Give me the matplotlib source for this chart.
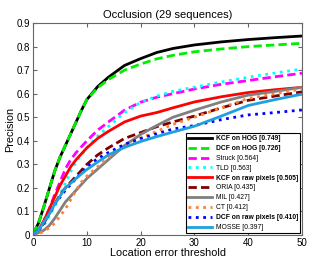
import numpy as np
import matplotlib.pyplot as plt

plt.rcParams['font.family'] = ['Liberation Sans', 'DejaVu Sans']

thr = [0, 1, 2, 3, 4, 5, 6, 7, 8, 9, 10, 12, 14, 17, 20, 23, 26, 30, 35, 40, 45, 50]

kcf_hog = [0.005, 0.05, 0.12, 0.195, 0.27, 0.33, 0.38, 0.43, 0.48, 0.53, 0.575, 0.63, 0.67, 0.72, 0.749, 0.775, 0.792, 0.807, 0.82, 0.83, 0.838, 0.845]
dcf_hog = [0.005, 0.05, 0.12, 0.195, 0.27, 0.33, 0.38, 0.43, 0.48, 0.53, 0.575, 0.625, 0.66, 0.70, 0.726, 0.748, 0.763, 0.778, 0.79, 0.80, 0.807, 0.814]
struck = [0.005, 0.02, 0.06, 0.11, 0.17, 0.225, 0.28, 0.32, 0.35, 0.375, 0.40, 0.445, 0.48, 0.53, 0.564, 0.585, 0.60, 0.62, 0.64, 0.656, 0.672, 0.687]
tld = [0.005, 0.015, 0.04, 0.08, 0.12, 0.17, 0.22, 0.27, 0.31, 0.34, 0.37, 0.42, 0.46, 0.52, 0.563, 0.59, 0.61, 0.628, 0.65, 0.67, 0.688, 0.705]
kcf_raw = [0.005, 0.02, 0.06, 0.11, 0.16, 0.21, 0.25, 0.29, 0.32, 0.345, 0.37, 0.41, 0.44, 0.48, 0.505, 0.52, 0.54, 0.565, 0.587, 0.605, 0.617, 0.627]
oria = [0.005, 0.02, 0.05, 0.09, 0.13, 0.17, 0.20, 0.225, 0.25, 0.275, 0.30, 0.34, 0.37, 0.41, 0.435, 0.46, 0.48, 0.505, 0.54, 0.572, 0.59, 0.608]
mil = [0.0, 0.01, 0.02, 0.04, 0.07, 0.105, 0.14, 0.165, 0.19, 0.215, 0.24, 0.28, 0.32, 0.38, 0.427, 0.465, 0.50, 0.53, 0.565, 0.594, 0.61, 0.627]
ct = [0.0, 0.005, 0.015, 0.03, 0.05, 0.08, 0.11, 0.15, 0.19, 0.225, 0.25, 0.29, 0.33, 0.38, 0.412, 0.44, 0.47, 0.50, 0.54, 0.58, 0.60, 0.62]
dcf_raw = [0.005, 0.02, 0.05, 0.09, 0.13, 0.16, 0.19, 0.215, 0.24, 0.265, 0.29, 0.325, 0.35, 0.385, 0.41, 0.43, 0.45, 0.465, 0.49, 0.51, 0.52, 0.531]
mosse = [0.005, 0.02, 0.055, 0.09, 0.13, 0.165, 0.20, 0.22, 0.24, 0.26, 0.278, 0.31, 0.34, 0.372, 0.397, 0.418, 0.437, 0.462, 0.505, 0.55, 0.575, 0.598]

fig = plt.figure(figsize=(3.12, 2.62), dpi=100)
ax = fig.add_axes([0.106, 0.103, 0.862, 0.809])

lw = 2.0
ax.plot(thr, kcf_hog, '-', color='black', lw=lw, label='KCF on HOG [0.749]')
ax.plot(thr, dcf_hog, '--', color='#00ee00', lw=lw, dashes=(3, 1.5), label='DCF on HOG [0.726]')
ax.plot(thr, struck, '--', color='#ff00ff', lw=lw, dashes=(3, 1.5), label='Struck [0.564]')
ax.plot(thr, tld, ':', color='#00ffff', lw=lw, label='TLD [0.563]')
ax.plot(thr, kcf_raw, '-', color='#ff0000', lw=lw, label='KCF on raw pixels [0.505]')
ax.plot(thr, oria, '--', color='#800000', lw=lw, dashes=(3, 1.5), label='ORIA [0.435]')
ax.plot(thr, mil, '-', color='#808080', lw=lw, label='MIL [0.427]')
ax.plot(thr, ct, ':', color='#ff8033', lw=lw, label='CT [0.412]')
ax.plot(thr, dcf_raw, ':', color='#0000ff', lw=lw, label='DCF on raw pixels [0.410]')
ax.plot(thr, mosse, '-', color='#1ea0e0', lw=lw, label='MOSSE [0.397]')

ax.set_xlim(0, 50)
ax.set_ylim(0, 0.9)
ax.set_xticks(np.arange(0, 51, 10))
ax.set_yticks(np.arange(0, 0.91, 0.1))
ax.set_yticklabels(['0'] + ['%.1f' % v for v in np.arange(0.1, 0.91, 0.1)])
ax.tick_params(direction='in', top=True, right=True, labelsize=7, length=3, color='#666666', pad=2)
for s in ax.spines.values():
    s.set_color('#666666')
    s.set_linewidth(0.8)

ax.set_title('Occlusion (29 sequences)', fontsize=8, pad=4)
ax.set_xlabel('Location error threshold', fontsize=7.8, labelpad=0)
ax.set_ylabel('Precision', fontsize=7.8, labelpad=1)

leg = ax.legend(loc='lower right', fontsize=4.9, handlelength=3.5, labelspacing=0.42,
                borderpad=0.35, handletextpad=0.5, fancybox=False, framealpha=1,
                borderaxespad=0.25)
leg.get_frame().set_edgecolor('black')
leg.get_frame().set_linewidth(0.8)
for t in leg.get_texts():
    if 'KCF' in t.get_text() or 'DCF' in t.get_text():
        t.set_fontweight('bold')

fig.savefig('out.png', dpi=100)
